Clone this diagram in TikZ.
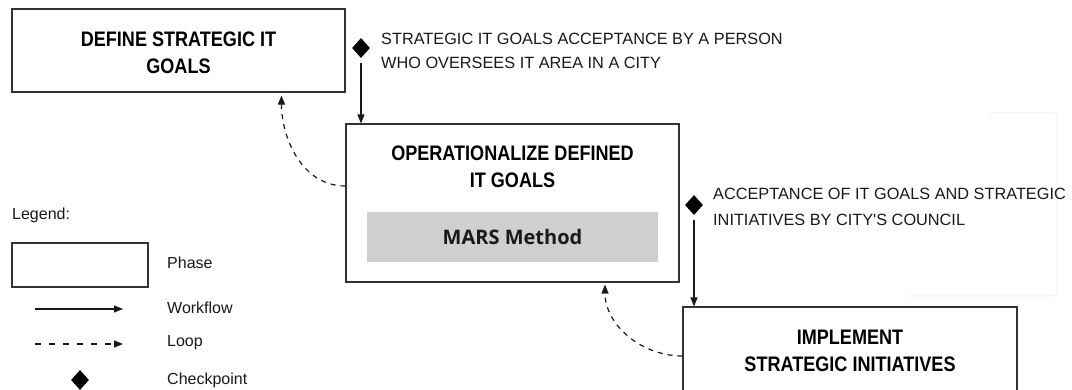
\documentclass[tikz,border=0pt]{standalone}
\usepackage{fontspec}
\setmainfont{Liberation Sans}
\newfontfamily\titlefont[FakeStretch=0.86]{Liberation Sans}
\newfontfamily\marsfont{Open Sans}
\usetikzlibrary{shapes.geometric,arrows.meta}
\begin{document}
\begin{tikzpicture}[x=1pt,y=-1pt,
  phasebox/.style={draw=black!80, line width=1.1pt, fill=white, rectangle, inner sep=0pt},
  titletext/.style={align=center, inner sep=0pt, text=black,
    font=\titlefont\bfseries\fontsize{21}{27}\selectfont},
  annot/.style={align=left, inner sep=0pt, anchor=west, text=black!90,
    font=\fontsize{16.3}{24}\selectfont},
  legtext/.style={inner sep=0pt, anchor=west, text=black!90, font=\fontsize{16}{20}\selectfont},
  chk/.style={diamond, fill=black, draw=none, inner sep=0pt, minimum width=18pt, minimum height=20pt},
  flow/.style={draw=black!90, line width=1.2pt, -{Triangle[length=9pt,width=7pt]}},
  loopline/.style={draw=black!90, line width=1.2pt, dash pattern=on 5pt off 5pt, -{Triangle[length=9pt,width=7pt]}},
]
\useasboundingbox (0,0) rectangle (1072,390);
\clip (0,0) rectangle (1072,390);
\fill[white] (0,0) rectangle (1072,390);

% faint background artifact
\draw[black!6, line width=1pt, rounded corners=3pt] (908,296) -- (1057,296) -- (1057,113) -- (990,113);

% phases
\node[phasebox, minimum width=333pt, minimum height=83pt] (define) at (178.5,50.5) {};
\node[titletext] (deftitle) at (178.5,53) {DEFINE STRATEGIC IT\\GOALS};
\node[phasebox, minimum width=333pt, minimum height=158pt] (op) at (512.5,203) {};
\node[titletext] (optitle) at (512.5,167) {OPERATIONALIZE DEFINED\\IT GOALS};
\node[fill=black!19, inner sep=0pt, minimum width=291pt, minimum height=50pt,
      font=\marsfont\bfseries\fontsize{20}{24}\selectfont, text=black!90] (mars) at (512.5,237) {MARS Method};
\node[phasebox, minimum width=334pt, minimum height=88pt] (impl) at (850,351) {};
\node[titletext] (impltitle) at (850,350.5) {IMPLEMENT\\STRATEGIC INITIATIVES};

% checkpoints
\node[chk] (d1) at (361,48) {};
\node[annot] (a1) at (381,50.5) {STRATEGIC IT GOALS ACCEPTANCE BY A PERSON\\WHO OVERSEES IT AREA IN A CITY};
\node[chk] (d2) at (694,205) {};
\node[annot, font=\fontsize{16.3}{25.5}\selectfont] (a2) at (713,207) {ACCEPTANCE OF IT GOALS AND STRATEGIC\\INITIATIVES BY CITY\textquotesingle S COUNCIL};

% workflow
\draw[flow, shorten <=5pt] (d1.south) -- (d1 |- op.north);
\draw[flow, shorten <=5pt] (d2.south) -- (d2 |- impl.north);

% loops
\draw[loopline, shorten >=3pt] ([yshift=17pt]op.west) to[out=180,in=-90] ([xshift=270pt]define.south west);
\draw[loopline, shorten >=2pt] ([yshift=-5pt]impl.west) to[out=180,in=-90] ([xshift=92.5pt]op.south);

% legend
\node[legtext] (leg) at (12,215) {Legend:};
\node[phasebox, minimum width=136pt, minimum height=44pt] (legbox) at (80,265) {};
\node[legtext] (legphase) at (167,263) {Phase};
\coordinate (wfa) at (35,309);
\coordinate (wfb) at (123,309);
\draw[flow] (wfa) -- (wfb);
\node[legtext] (legwf) at (167,308) {Workflow};
\coordinate (lpa) at (35,344);
\coordinate (lpb) at (123,344);
\draw[loopline, dash pattern=on 6pt off 8pt] (lpa) -- (lpb);
\node[legtext] (leglp) at (167,343) {Loop};
\node[chk] (legd) at (80,380) {};
\node[legtext] (legchk) at (167,380) {Checkpoint};
\end{tikzpicture}
\end{document}
